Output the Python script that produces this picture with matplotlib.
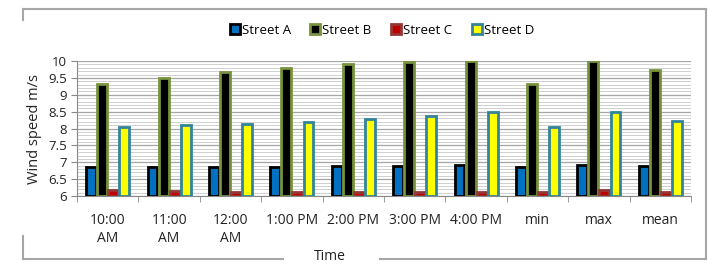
import matplotlib
matplotlib.use("Agg")
import matplotlib.pyplot as plt
import numpy as np
from matplotlib.lines import Line2D
from matplotlib.patches import Patch

plt.rcParams['font.family'] = ['Open Sans', 'DejaVu Sans']

categories = ["10:00\nAM", "11:00\nAM", "12:00\nAM", "1:00 PM", "2:00 PM",
              "3:00 PM", "4:00 PM", "min", "max", "mean"]
street_a = [6.86, 6.86, 6.87, 6.87, 6.88, 6.89, 6.91, 6.86, 6.91, 6.88]
street_b = [9.31, 9.49, 9.68, 9.80, 9.90, 9.97, 10.0, 9.31, 10.0, 9.74]
street_c = [6.17, 6.14, 6.13, 6.13, 6.13, 6.12, 6.12, 6.12, 6.17, 6.13]
street_d = [8.03, 8.09, 8.14, 8.19, 8.27, 8.37, 8.50, 8.03, 8.50, 8.22]
series_names = ["Street A", "Street B", "Street C", "Street D"]

fills = ["#0070C0", "#000000", "#C00000", "#FFFF00"]
edges = ["#000000", "#77933C", "#953735", "#31849B"]

fig = plt.figure(figsize=(7.08, 2.64), dpi=100)
ax = fig.add_axes([77/708, 1-196/264, (691-77)/708, (196-61)/264])

x = np.arange(len(categories))
w = 0.18
offsets = [-1.5*w, -0.5*w, 0.5*w, 1.5*w]
data = [street_a, street_b, street_c, street_d]
for vals, off, fc, ec in zip(data, offsets, fills, edges):
    ax.bar(x + off, np.array(vals) - 6, bottom=6, width=w*0.9, color=fc,
           edgecolor=ec, linewidth=2.0, zorder=3)

ax.set_ylim(6, 10)
ax.set_xlim(-0.5, len(categories) - 0.5)
ax.set_yticks(np.arange(6, 10.01, 0.5))
ax.set_yticklabels(["6", "6.5", "7", "7.5", "8", "8.5", "9", "9.5", "10"])
ax.set_yticks(np.arange(6, 10.001, 0.1), minor=True)
ax.yaxis.grid(True, which='major', color='#A6A6A6', linewidth=0.9, zorder=0)
ax.yaxis.grid(True, which='minor', color='#CFCFCF', linewidth=0.7, zorder=0)
ax.tick_params(axis='y', which='minor', length=0)
ax.tick_params(axis='y', which='major', length=4, color='#888888', labelsize=9.5,
               colors='#222222', pad=3)

ax.set_xticks(x)
ax.set_xticklabels(categories, fontsize=10, color='#222222', linespacing=1.3)
ax.set_xticks(np.arange(-0.5, len(categories), 1), minor=True)
ax.tick_params(axis='x', which='major', length=0, pad=12)
ax.tick_params(axis='x', which='minor', length=4, color='#888888')
for s in ['top', 'right']:
    ax.spines[s].set_visible(False)
ax.spines['left'].set_color('#888888')
ax.spines['bottom'].set_color('#888888')

ax.set_ylabel("Wind speed m/s", fontsize=10.5, color='#222222', labelpad=5)
fig.text(330/708, 1-256/264, "Time", ha='center', va='center', fontsize=10,
         color='#222222')

handles = [Patch(facecolor=fc, edgecolor=ec, linewidth=2.0) for fc, ec in zip(fills, edges)]
fig.legend(handles, series_names, loc='center', bbox_to_anchor=(382/708, 1-30/264),
           ncol=4, frameon=False, fontsize=9.5, handlelength=0.75, handleheight=0.75,
           handletextpad=0.15, columnspacing=1.5)

# outer chart frame (partially visible)
fc_ = '#A6A6A6'
def fl(x0, y0, x1, y1):
    fig.add_artist(Line2D([x0/708, x1/708], [1-y0/264, 1-y1/264], color=fc_, lw=1.5))
fl(23, 9, 706, 9)
fl(706, 9, 706, 259)
fl(23, 9, 23, 20)
fl(23, 236, 23, 259)
fl(23, 259, 283, 259)
fl(380, 259, 706, 259)

fig.savefig("out.png", dpi=100)
